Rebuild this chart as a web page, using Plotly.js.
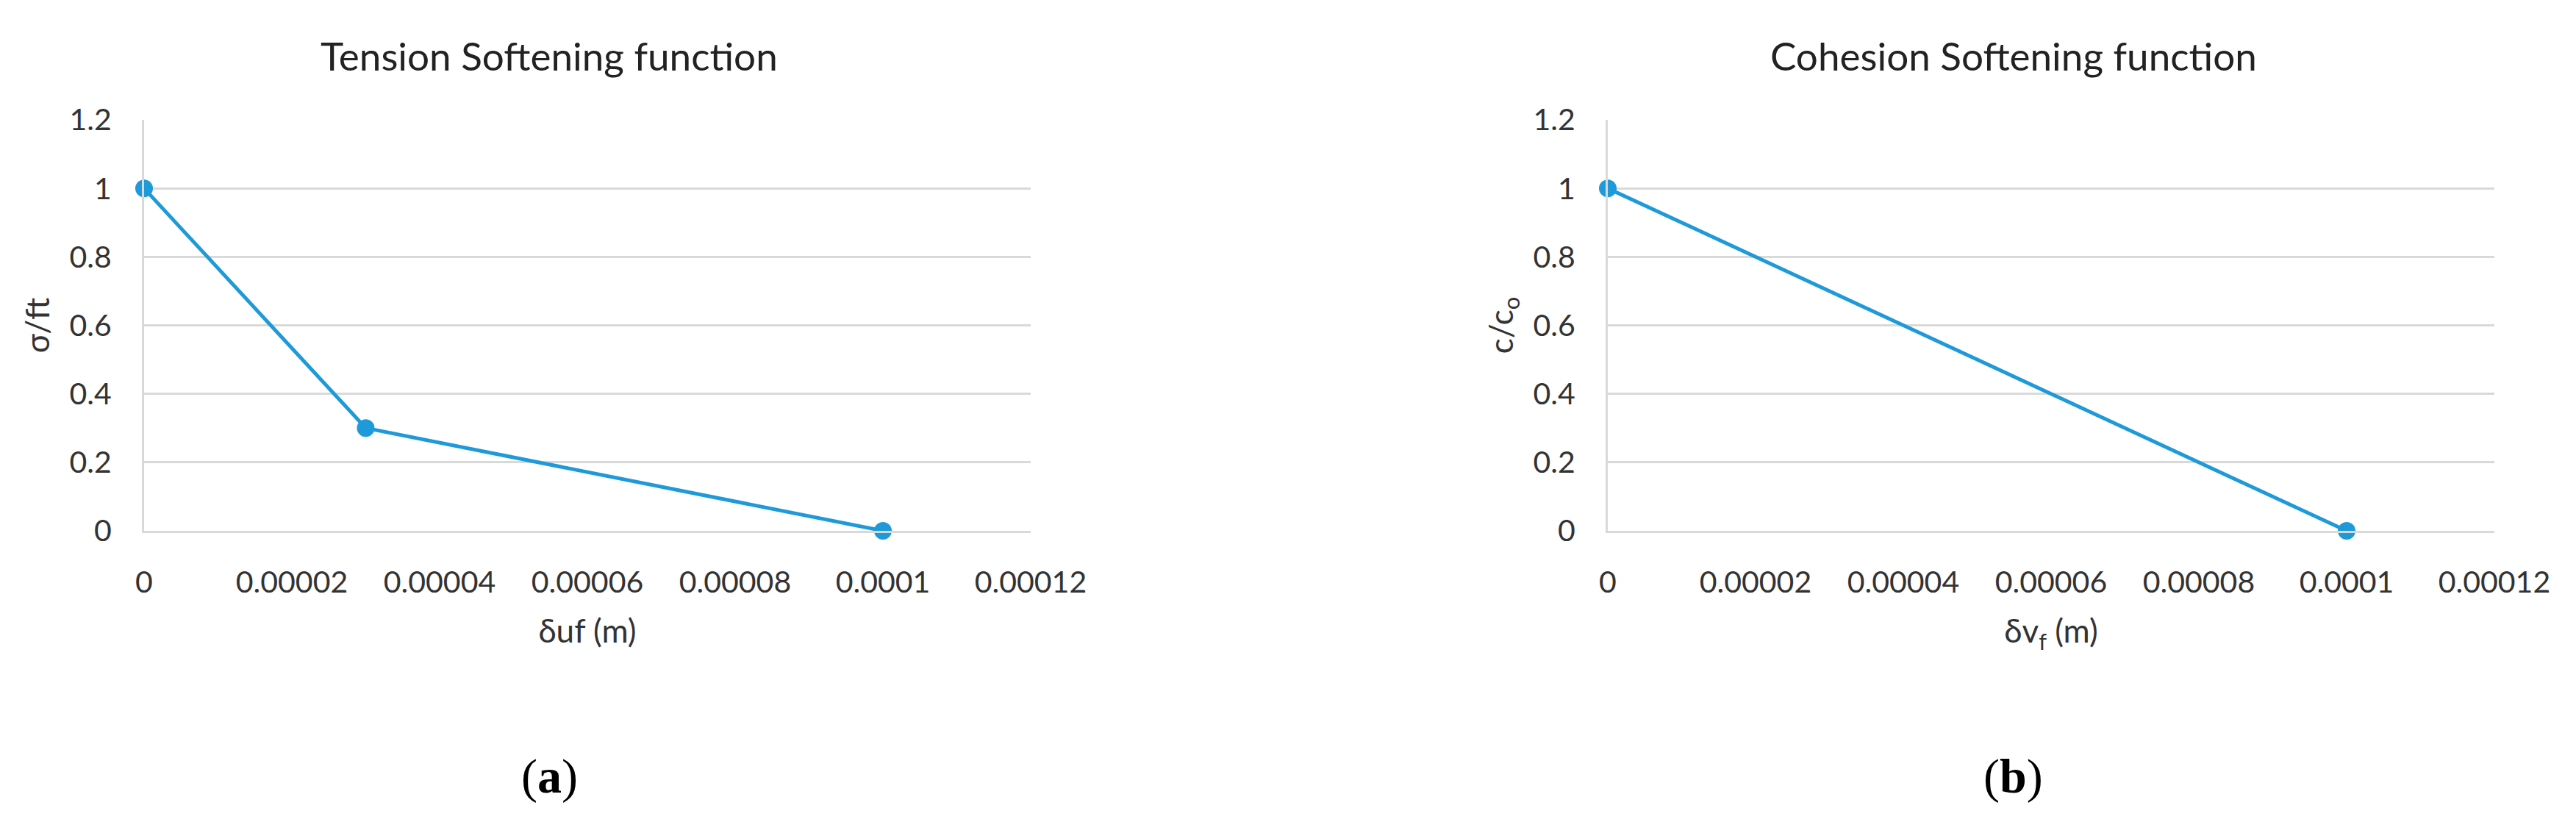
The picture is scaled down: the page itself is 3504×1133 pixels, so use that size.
<!DOCTYPE html>
<html>
<head>
<meta charset="utf-8">
<script src="https://cdn.plot.ly/plotly-3.0.1.min.js"></script>
<style>
  html, body { margin: 0; padding: 0; background: #fff; }
  #chart { width: 3504px; height: 1133px; }
</style>
</head>
<body>
<div id="chart"></div>
<script>
// tension softening (a)
var tensionX = [0, 0.00003, 0.0001];
var tensionY = [1, 0.3, 0];

// cohesion softening (b)
var cohesionX = [0, 0.0001];
var cohesionY = [1, 0];

var xTickVals = [0, 0.00002, 0.00004, 0.00006, 0.00008, 0.0001, 0.00012];
var xTickText = ['0', '0.00002', '0.00004', '0.00006', '0.00008', '0.0001', '0.00012'];

var blue = '#1f9ad8';
var grid = '#d9d9d9';
var txt = '#333333';

var tension = {
  x: tensionX,
  y: tensionY,
  xaxis: 'x',
  yaxis: 'y',
  mode: 'lines+markers',
  line: { color: blue, width: 5 },
  marker: { color: blue, size: 24 },
  cliponaxis: false,
  showlegend: false
};

var cohesion = {
  x: cohesionX,
  y: cohesionY,
  xaxis: 'x2',
  yaxis: 'y2',
  mode: 'lines+markers',
  line: { color: blue, width: 5 },
  marker: { color: blue, size: 24 },
  cliponaxis: false,
  showlegend: false
};

function xAxis(domain, title, anchor) {
  return {
    domain: domain,
    anchor: anchor,
    range: [0, 0.00012],
    tickvals: xTickVals,
    ticktext: xTickText,
    showgrid: false,
    zeroline: false,
    showline: true,
    linecolor: grid,
    linewidth: 3,
    ticks: '',
    ticklabelstandoff: 32,
    tickfont: { size: 41, color: txt },
    title: { text: title, standoff: 30, font: { size: 44, color: txt } }
  };
}

function yAxis(title, anchor) {
  return {
    domain: [0.3628, 0.8561],
    anchor: anchor,
    range: [0, 1.2],
    dtick: 0.2,
    showgrid: true,
    gridcolor: grid,
    gridwidth: 3,
    zeroline: false,
    showline: true,
    linecolor: grid,
    linewidth: 3,
    ticks: '',
    ticklabelstandoff: 33,
    tickfont: { size: 41, color: txt },
    title: { text: title, standoff: 14, font: { size: 44, color: txt } }
  };
}

var layout = {
  width: 3504,
  height: 1133,
  margin: { l: 0, r: 0, t: 0, b: 0 },
  paper_bgcolor: '#fff',
  plot_bgcolor: '#fff',
  font: { family: 'Lato, "Open Sans", sans-serif', color: txt },
  xaxis: xAxis([0.05594, 0.40011], '\u03b4uf (m)', 'y'),
  yaxis: yAxis('\u03c3/ft', 'x'),
  xaxis2: xAxis([0.62414, 0.96832], '\u03b4v<sub>f</sub> (m)', 'y2'),
  yaxis2: yAxis('c/c<sub>o</sub>', 'x2'),
  annotations: [
    { text: 'Tension Softening function', xref: 'paper', yref: 'paper',
      x: 0.2132, y: 0.9338, showarrow: false, xanchor: 'center', yanchor: 'middle',
      font: { size: 53, color: '#222' } },
    { text: 'Cohesion Softening function', xref: 'paper', yref: 'paper',
      x: 0.7817, y: 0.9338, showarrow: false, xanchor: 'center', yanchor: 'middle',
      font: { size: 53, color: '#222' } },
    { text: '(<b>a</b>)', xref: 'paper', yref: 'paper',
      x: 0.2132, y: 0.068, showarrow: false, xanchor: 'center', yanchor: 'middle',
      font: { family: '"Liberation Serif", "DejaVu Serif", serif', size: 66, color: '#000' } },
    { text: '(<b>b</b>)', xref: 'paper', yref: 'paper',
      x: 0.7814, y: 0.068, showarrow: false, xanchor: 'center', yanchor: 'middle',
      font: { family: '"Liberation Serif", "DejaVu Serif", serif', size: 66, color: '#000' } }
  ]
};

Plotly.newPlot('chart', [tension, cohesion], layout, { displayModeBar: false, staticPlot: true });
</script>
</body>
</html>
